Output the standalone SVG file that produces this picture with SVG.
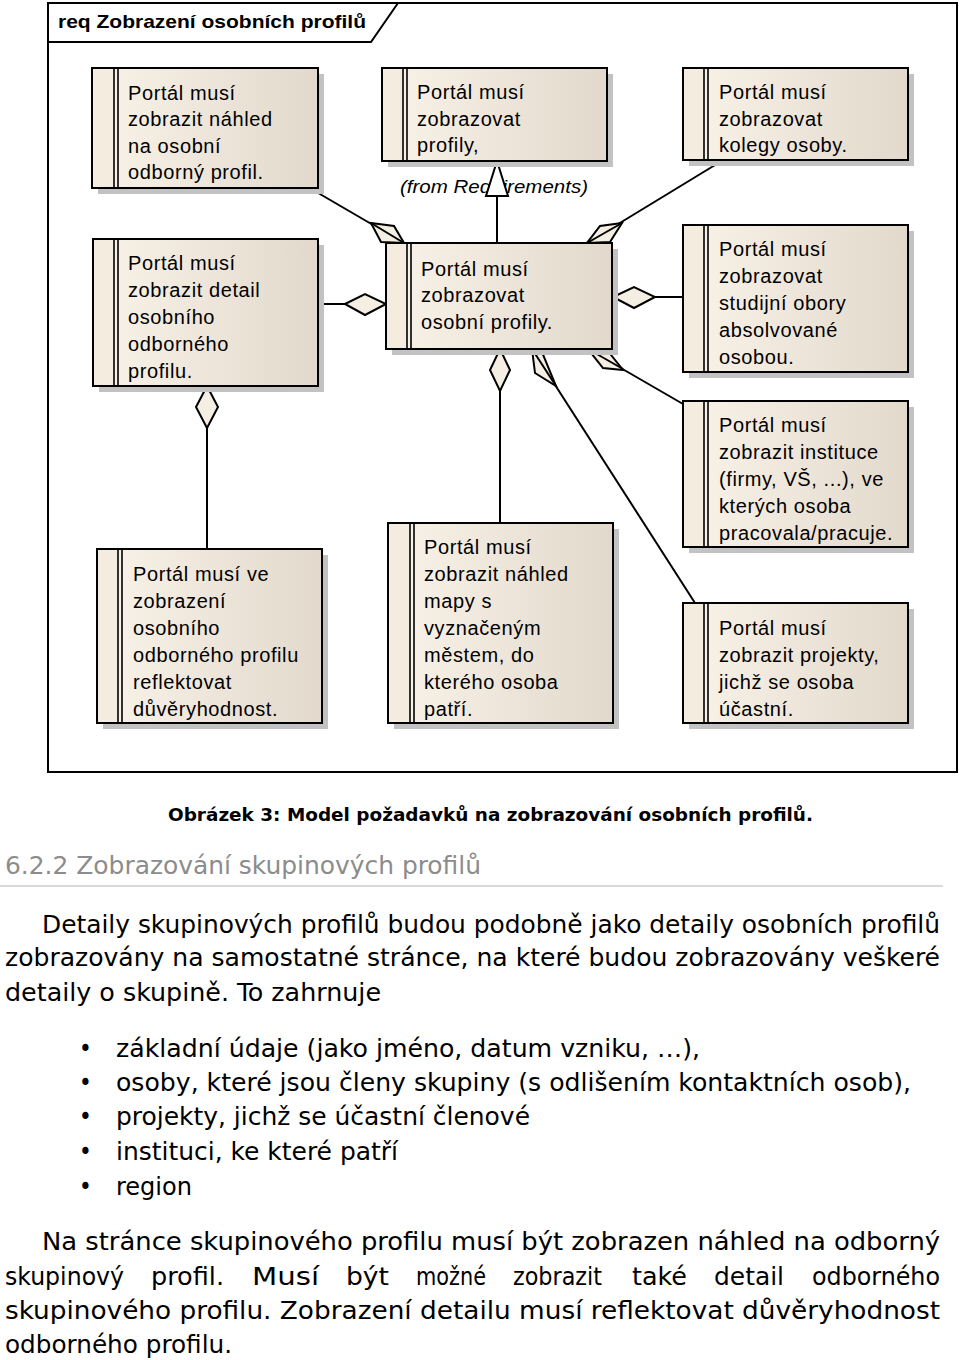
<svg xmlns="http://www.w3.org/2000/svg" width="960" height="1360" viewBox="0 0 960 1360">
<defs>
<linearGradient id="boxg" x1="0" y1="0" x2="1" y2="0">
<stop offset="0" stop-color="#faf3e9"/>
<stop offset="1" stop-color="#e2d9cc"/>
</linearGradient>
<style>
.shadow{fill:#c2c2c2}
.box{fill:url(#boxg);stroke:#000;stroke-width:2}
.strip{fill:#f4ecdf}
.bar{stroke:#000;stroke-width:1.6}
.nt{font-family:"Liberation Sans",Arial,sans-serif;font-size:20px;letter-spacing:0.6px;fill:#000}
.ln{stroke:#000;stroke-width:2;fill:none}
.dia{fill:#f5eee2;stroke:#000;stroke-width:2;stroke-linejoin:miter}
.body{font-family:"DejaVu Sans Condensed","DejaVu Sans",sans-serif;font-stretch:condensed;font-size:24px;fill:#000}
</style>
</defs>
<rect width="960" height="1360" fill="#fff"/>

<!-- frame -->
<g id="frame">
<rect x="48" y="3" width="909" height="769" fill="none" stroke="#000" stroke-width="2"/>
<path d="M48,42 H371 L398,3" fill="none" stroke="#000" stroke-width="2"/>
<text x="58" y="28" font-family="Liberation Sans,Arial,sans-serif" font-weight="bold" font-size="19" textLength="308" lengthAdjust="spacingAndGlyphs">req Zobrazení osobních profilů</text>
</g>

<!-- connectors -->
<g id="connectors">
<line class="ln" x1="313" y1="190" x2="404" y2="243"/>
<polygon class="dia" points="371,223 394,226 404,243 381,242"/>
<line class="ln" x1="371" y1="223" x2="404" y2="243"/>

<line class="ln" x1="720" y1="162" x2="587" y2="243"/>
<polygon class="dia" points="622,223 600,226 587,243 610,242"/>
<line class="ln" x1="622" y1="223" x2="587" y2="243"/>

<line class="ln" x1="655" y1="297" x2="683" y2="297"/>
<polygon class="dia" points="613,297 634,287 655,297 634,308"/>

<line class="ln" x1="318" y1="304" x2="345" y2="304"/>
<polygon class="dia" points="345,304 365,294 386,304 365,315"/>

<line class="ln" x1="207" y1="428" x2="207" y2="549"/>
<polygon class="dia" points="207,386 218,407 207,428 196,407"/>

<line class="ln" x1="500" y1="391" x2="500" y2="523"/>
<polygon class="dia" points="500,349 510,370 500,391 490,370"/>

<line class="ln" x1="532" y1="349" x2="695" y2="603"/>
<polygon class="dia" points="532,349 542,352 556,386 535,373"/>
<line class="ln" x1="532" y1="349" x2="556" y2="386"/>

<line class="ln" x1="588" y1="349" x2="683" y2="404"/>
<polygon class="dia" points="588,349 607,350 623,370 603,368"/>
<line class="ln" x1="588" y1="349" x2="623" y2="369"/>

<line class="ln" x1="497" y1="196" x2="497" y2="243"/>
</g>

<text x="400" y="193" font-family="Liberation Sans,Arial,sans-serif" font-style="italic" font-size="19" textLength="188" lengthAdjust="spacingAndGlyphs">(from Requirements)</text>
<polygon points="497,161 508,196 486,196" fill="#fff" stroke="#000" stroke-width="2"/>

<!-- nodes -->
<g id="n1">
<rect class="shadow" x="98" y="74" width="226" height="120"/>
<rect class="box" x="92" y="68" width="226" height="120"/>
<rect class="strip" x="93" y="69" width="21" height="118"/>
<line class="bar" x1="114" y1="68" x2="114" y2="188"/><line class="bar" x1="118" y1="68" x2="118" y2="188"/>
<text class="nt" x="128" y="100">Portál musí</text>
<text class="nt" x="128" y="126">zobrazit náhled</text>
<text class="nt" x="128" y="153">na osobní</text>
<text class="nt" x="128" y="179">odborný profil.</text>
</g>

<g id="n2">
<rect class="shadow" x="388" y="74" width="225" height="93"/>
<rect class="box" x="382" y="68" width="225" height="93"/>
<rect class="strip" x="383" y="69" width="20" height="91"/>
<line class="bar" x1="403" y1="68" x2="403" y2="161"/><line class="bar" x1="407" y1="68" x2="407" y2="161"/>
<text class="nt" x="417" y="99">Portál musí</text>
<text class="nt" x="417" y="126">zobrazovat</text>
<text class="nt" x="417" y="152">profily,</text>
</g>

<g id="n3">
<rect class="shadow" x="392" y="249" width="226" height="106"/>
<rect class="box" x="386" y="243" width="226" height="106"/>
<rect class="strip" x="387" y="244" width="20" height="104"/>
<line class="bar" x1="407" y1="243" x2="407" y2="349"/><line class="bar" x1="411" y1="243" x2="411" y2="349"/>
<text class="nt" x="421" y="276">Portál musí</text>
<text class="nt" x="421" y="302">zobrazovat</text>
<text class="nt" x="421" y="329">osobní profily.</text>
</g>

<g id="n4">
<rect class="shadow" x="689" y="74" width="225" height="92"/>
<rect class="box" x="683" y="68" width="225" height="92"/>
<rect class="strip" x="684" y="69" width="20" height="90"/>
<line class="bar" x1="704" y1="68" x2="704" y2="160"/><line class="bar" x1="708" y1="68" x2="708" y2="160"/>
<text class="nt" x="719" y="99">Portál musí</text>
<text class="nt" x="719" y="126">zobrazovat</text>
<text class="nt" x="719" y="152">kolegy osoby.</text>
</g>

<g id="n5">
<rect class="shadow" x="689" y="231" width="225" height="147"/>
<rect class="box" x="683" y="225" width="225" height="147"/>
<rect class="strip" x="684" y="226" width="20" height="145"/>
<line class="bar" x1="704" y1="225" x2="704" y2="372"/><line class="bar" x1="708" y1="225" x2="708" y2="372"/>
<text class="nt" x="719" y="256">Portál musí</text>
<text class="nt" x="719" y="283">zobrazovat</text>
<text class="nt" x="719" y="310">studijní obory</text>
<text class="nt" x="719" y="337">absolvované</text>
<text class="nt" x="719" y="364">osobou.</text>
</g>

<g id="n6">
<rect class="shadow" x="99" y="245" width="225" height="147"/>
<rect class="box" x="93" y="239" width="225" height="147"/>
<rect class="strip" x="94" y="240" width="20" height="145"/>
<line class="bar" x1="114" y1="239" x2="114" y2="386"/><line class="bar" x1="118" y1="239" x2="118" y2="386"/>
<text class="nt" x="128" y="270">Portál musí</text>
<text class="nt" x="128" y="297">zobrazit detail</text>
<text class="nt" x="128" y="324">osobního</text>
<text class="nt" x="128" y="351">odborného</text>
<text class="nt" x="128" y="378">profilu.</text>
</g>

<g id="n7">
<rect class="shadow" x="103" y="555" width="225" height="174"/>
<rect class="box" x="97" y="549" width="225" height="174"/>
<rect class="strip" x="98" y="550" width="20" height="172"/>
<line class="bar" x1="118" y1="549" x2="118" y2="723"/><line class="bar" x1="122" y1="549" x2="122" y2="723"/>
<text class="nt" x="133" y="581">Portál musí ve</text>
<text class="nt" x="133" y="608">zobrazení</text>
<text class="nt" x="133" y="635">osobního</text>
<text class="nt" x="133" y="662">odborného profilu</text>
<text class="nt" x="133" y="689">reflektovat</text>
<text class="nt" x="133" y="716">důvěryhodnost.</text>
</g>

<g id="n8">
<rect class="shadow" x="394" y="529" width="225" height="200"/>
<rect class="box" x="388" y="523" width="225" height="200"/>
<rect class="strip" x="389" y="524" width="21" height="198"/>
<line class="bar" x1="410" y1="523" x2="410" y2="723"/><line class="bar" x1="414" y1="523" x2="414" y2="723"/>
<text class="nt" x="424" y="554">Portál musí</text>
<text class="nt" x="424" y="581">zobrazit náhled</text>
<text class="nt" x="424" y="608">mapy s</text>
<text class="nt" x="424" y="635">vyznačeným</text>
<text class="nt" x="424" y="662">městem, do</text>
<text class="nt" x="424" y="689">kterého osoba</text>
<text class="nt" x="424" y="716">patří.</text>
</g>

<g id="n9">
<rect class="shadow" x="689" y="407" width="225" height="146"/>
<rect class="box" x="683" y="401" width="225" height="146"/>
<rect class="strip" x="684" y="402" width="20" height="144"/>
<line class="bar" x1="704" y1="401" x2="704" y2="547"/><line class="bar" x1="708" y1="401" x2="708" y2="547"/>
<text class="nt" x="719" y="432">Portál musí</text>
<text class="nt" x="719" y="459">zobrazit instituce</text>
<text class="nt" x="719" y="486">(firmy, VŠ, ...), ve</text>
<text class="nt" x="719" y="513">kterých osoba</text>
<text class="nt" x="719" y="540">pracovala/pracuje.</text>
</g>

<g id="n10">
<rect class="shadow" x="689" y="609" width="225" height="120"/>
<rect class="box" x="683" y="603" width="225" height="120"/>
<rect class="strip" x="684" y="604" width="20" height="118"/>
<line class="bar" x1="704" y1="603" x2="704" y2="723"/><line class="bar" x1="708" y1="603" x2="708" y2="723"/>
<text class="nt" x="719" y="635">Portál musí</text>
<text class="nt" x="719" y="662">zobrazit projekty,</text>
<text class="nt" x="719" y="689">jichž se osoba</text>
<text class="nt" x="719" y="716">účastní.</text>
</g>

<!-- text below -->
<text x="168" y="821" font-family="DejaVu Sans Condensed,DejaVu Sans,sans-serif" font-weight="bold" font-size="18" textLength="645" lengthAdjust="spacingAndGlyphs">Obrázek 3: Model požadavků na zobrazování osobních profilů.</text>
<text x="5" y="874" class="body" style="fill:#8c8c8c" textLength="476" lengthAdjust="spacingAndGlyphs">6.2.2 Zobrazování skupinových profilů</text>
<line x1="0" y1="886" x2="943" y2="886" stroke="#cccccc" stroke-width="1.5"/>

<text class="body" x="42" y="933" textLength="898" lengthAdjust="spacingAndGlyphs">Detaily skupinových profilů budou podobně jako detaily osobních profilů</text>
<text class="body" x="5" y="966" textLength="935" lengthAdjust="spacingAndGlyphs">zobrazovány na samostatné stránce, na které budou zobrazovány veškeré</text>
<text class="body" x="5" y="1001" textLength="376" lengthAdjust="spacingAndGlyphs">detaily o skupině. To zahrnuje</text>

<g>
<text class="body" x="79" y="1057">•</text>
<text class="body" x="79" y="1091">•</text>
<text class="body" x="79" y="1125">•</text>
<text class="body" x="79" y="1160">•</text>
<text class="body" x="79" y="1195">•</text>
</g>
<text class="body" x="116" y="1057" textLength="584" lengthAdjust="spacingAndGlyphs">základní údaje (jako jméno, datum vzniku, …),</text>
<text class="body" x="116" y="1091" textLength="795" lengthAdjust="spacingAndGlyphs">osoby, které jsou členy skupiny (s odlišením kontaktních osob),</text>
<text class="body" x="116" y="1125" textLength="414" lengthAdjust="spacingAndGlyphs">projekty, jichž se účastní členové</text>
<text class="body" x="116" y="1160" textLength="282" lengthAdjust="spacingAndGlyphs">instituci, ke které patří</text>
<text class="body" x="116" y="1195" textLength="76" lengthAdjust="spacingAndGlyphs">region</text>

<text class="body" x="42" y="1250" textLength="898" lengthAdjust="spacingAndGlyphs">Na stránce skupinového profilu musí být zobrazen náhled na odborný</text>
<text class="body" y="1285"><tspan x="5" textLength="119" lengthAdjust="spacingAndGlyphs">skupinový</tspan> <tspan x="151" textLength="73" lengthAdjust="spacingAndGlyphs">profil.</tspan> <tspan x="252" textLength="67" lengthAdjust="spacingAndGlyphs">Musí</tspan> <tspan x="346" textLength="43" lengthAdjust="spacingAndGlyphs">být</tspan> <tspan x="416" textLength="70" lengthAdjust="spacingAndGlyphs">možné</tspan> <tspan x="513" textLength="89" lengthAdjust="spacingAndGlyphs">zobrazit</tspan> <tspan x="632" textLength="55" lengthAdjust="spacingAndGlyphs">také</tspan> <tspan x="714" textLength="70" lengthAdjust="spacingAndGlyphs">detail</tspan> <tspan x="812" textLength="128" lengthAdjust="spacingAndGlyphs">odborného</tspan></text>
<text class="body" x="5" y="1319" textLength="935" lengthAdjust="spacingAndGlyphs">skupinového profilu. Zobrazení detailu musí reflektovat důvěryhodnost</text>
<text class="body" x="5" y="1353" textLength="227" lengthAdjust="spacingAndGlyphs">odborného profilu.</text>
</svg>
